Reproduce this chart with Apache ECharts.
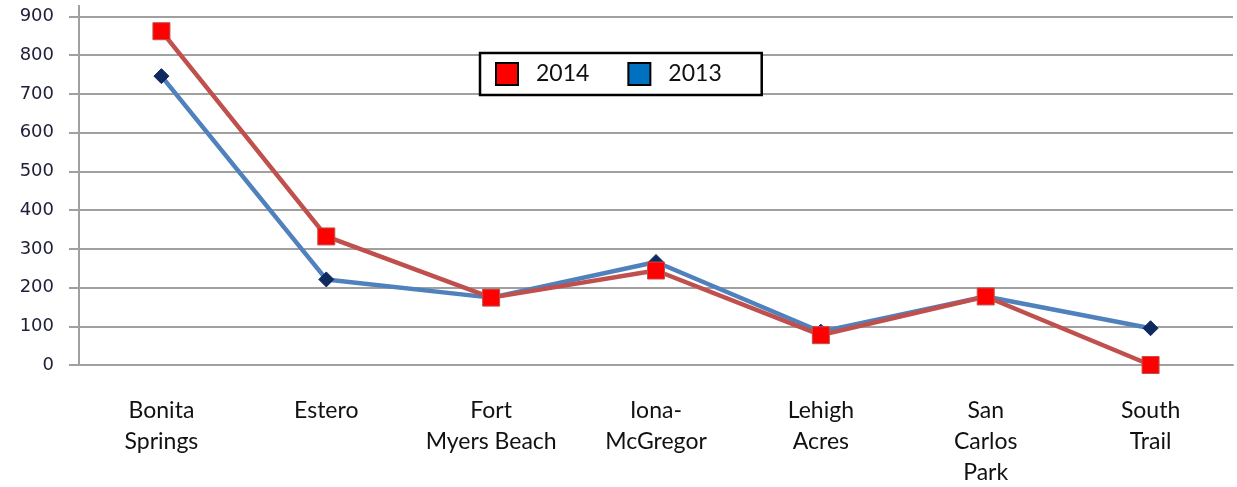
<!DOCTYPE html>
<html>
<head>
<meta charset="utf-8">
<script src="https://cdn.jsdelivr.net/npm/echarts@6/dist/echarts.min.js"></script>
<style>
  html, body { margin: 0; padding: 0; background: #fff; }
  #chart { width: 1237px; height: 487px; }
</style>
</head>
<body>
<div id="chart"></div>
<script>
var categories = ['Bonita Springs', 'Estero', 'Fort Myers Beach', 'Iona-McGregor', 'Lehigh Acres', 'San Carlos Park', 'South Trail'];
var tickLabels = ['Bonita\nSprings', 'Estero', 'Fort\nMyers Beach', 'Iona-\nMcGregor', 'Lehigh\nAcres', 'San\nCarlos\nPark', 'South\nTrail'];
var values2014 = [862, 332, 174, 244, 77, 177, 0];
var values2013 = [746, 221, 174, 266, 86, 177, 95];

var chartDom = document.getElementById('chart');
var myChart = echarts.init(chartDom);
var option;

option = {
  animation: false,
  grid: { left: 79, right: 4, top: 16.5, bottom: 122, outerBoundsMode: 'none', containLabel: false },
  // small stub of the y axis above the top gridline, as in the original
  graphic: [
    { type: 'line', shape: { x1: 79, y1: 5, x2: 79, y2: 17 }, style: { stroke: '#a0a0a0', lineWidth: 2 } }
  ],
  legend: {
    left: 480,
    top: 53,
    orient: 'horizontal',
    backgroundColor: '#fff',
    borderColor: '#000',
    borderWidth: 2.5,
    padding: [9, 40, 9, 15],
    itemWidth: 22,
    itemHeight: 22,
    itemGap: 38,
    textStyle: { fontFamily: 'Lato', fontSize: 23, color: '#111', padding: [0, 0, 0, 13] },
    data: [
      { name: '2014', icon: 'rect', itemStyle: { color: '#FF0000', borderColor: '#000', borderWidth: 2 } },
      { name: '2013', icon: 'rect', itemStyle: { color: '#0070C0', borderColor: '#000', borderWidth: 2 } }
    ]
  },
  xAxis: {
    type: 'category',
    data: categories,
    boundaryGap: true,
    axisLine: { lineStyle: { color: '#a0a0a0', width: 2 } },
    axisTick: { show: false },
    axisLabel: {
      interval: 0,
      margin: 30,
      fontFamily: 'Lato',
      fontSize: 23,
      lineHeight: 31,
      color: '#111',
      formatter: function (v, i) { return tickLabels[i]; }
    }
  },
  yAxis: {
    type: 'value',
    min: 0,
    max: 900,
    interval: 100,
    axisLine: { show: true, lineStyle: { color: '#a0a0a0', width: 2 } },
    axisTick: { show: true, length: 10, lineStyle: { color: '#a0a0a0', width: 2 } },
    splitLine: { lineStyle: { color: '#a0a0a0', width: 2 } },
    axisLabel: {
      margin: 25,
      fontFamily: 'DejaVu Sans',
      fontSize: 18,
      color: '#20203a'
    }
  },
  series: [
    {
      name: '2013',
      type: 'line',
      data: values2013,
      symbol: 'diamond',
      symbolSize: 15,
      z: 2,
      lineStyle: { color: '#4F81BD', width: 4.5 },
      itemStyle: { color: '#0F2A5E', borderColor: '#0F2A5E', borderWidth: 1 }
    },
    {
      name: '2014',
      type: 'line',
      data: values2014,
      symbol: 'rect',
      symbolSize: 17,
      z: 3,
      lineStyle: { color: '#C0504D', width: 4.5 },
      itemStyle: { color: '#FF0000', borderColor: '#C0504D', borderWidth: 1 }
    }
  ]
};

option && myChart.setOption(option);
</script>
</body>
</html>
